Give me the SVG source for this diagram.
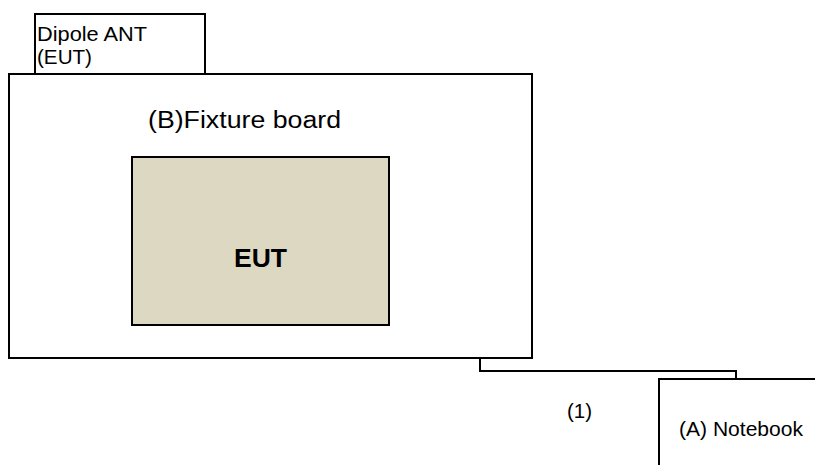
<svg xmlns="http://www.w3.org/2000/svg" width="815" height="465" viewBox="0 0 815 465">
<style>
.box{fill:#ffffff;stroke:#000;stroke-width:2}
.t{font-family:"Liberation Sans",Arial,sans-serif;fill:#000}
.wire{fill:none;stroke:#000;stroke-width:2}
</style>
<rect width="815" height="465" fill="#fff"/>
<g id="dipole">
<rect class="box" x="35" y="14" width="170" height="60"/>
<text class="t" x="37" y="41" font-size="20" textLength="110" lengthAdjust="spacingAndGlyphs">Dipole ANT</text>
<text class="t" x="37" y="64" font-size="20" textLength="55" lengthAdjust="spacingAndGlyphs">(EUT)</text>
</g>
<g id="fixture">
<rect class="box" x="9" y="74" width="523" height="284"/>
<text class="t" x="148" y="128" font-size="23" textLength="193" lengthAdjust="spacingAndGlyphs">(B)Fixture board</text>
</g>
<g id="eut">
<rect x="132" y="157" width="257" height="168" fill="#DDD8C2" stroke="#000" stroke-width="2"/>
<text class="t" x="234" y="267" font-size="26" font-weight="bold" textLength="53" lengthAdjust="spacingAndGlyphs">EUT</text>
</g>
<g id="notebook">
<path class="wire" d="M659,465 V379 H816"/>
<text class="t" x="679" y="436" font-size="20" textLength="124" lengthAdjust="spacingAndGlyphs">(A) Notebook</text>
</g>
<g id="connectors">
<path class="wire" d="M480,358 V371 H736 V379"/>
<text class="t" x="567" y="418" font-size="20" textLength="25" lengthAdjust="spacingAndGlyphs">(1)</text>
</g>
</svg>
